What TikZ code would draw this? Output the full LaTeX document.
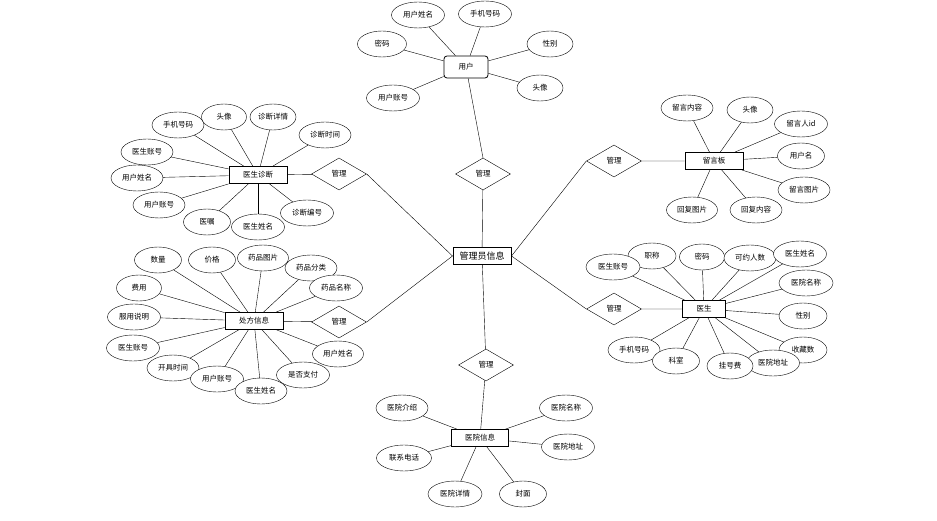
\documentclass[tikz,border=0pt]{standalone}
\usepackage{fontspec}
\newfontfamily\cjk{Noto Sans CJK SC}
\usetikzlibrary{shapes.geometric}

\begin{document}
\begin{tikzpicture}[x=1pt, y=-1pt, font=\cjk\fontsize{7.5}{9}\selectfont,
	attr/.style={draw, ellipse, fill=white, minimum height=26pt, inner sep=0pt},
	entity/.style={draw, fill=white, line width=0.8pt, minimum width=58pt, minimum height=17pt, inner sep=1pt},
	rel/.style={draw, diamond, fill=white, minimum width=55pt, minimum height=32pt, inner sep=0pt}]
	\useasboundingbox (0,0) rectangle (937,521);
	\node[entity, font=\cjk\fontsize{9}{10}\selectfont, line width=1pt] (admin) at (482,256) {管理员信息};
	\node[entity, rounded corners=3pt, minimum width=44pt, minimum height=22pt] (user) at (466,67) {用户};
	\node[entity] (diag) at (258,175) {医生诊断};
	\node[entity] (presc) at (254,321) {处方信息};
	\node[entity] (board) at (714,161) {留言板};
	\node[entity, minimum width=43pt] (doctor) at (704,309) {医生};
	\node[entity, minimum width=57pt] (hosp) at (480,438) {医院信息};
	\foreach \n/\x/\y in {r1/339/174, r2/339/322, r3/614/161, r4/614/309, r5/483/174, r6/486/365}
		{\node[rel] (\n) at (\x,\y) {管理};}
	\draw (diag) -- (r1) (r1.east) -- (admin.west);
	\draw (presc) -- (r2) (r2.east) -- (admin.west);
	\draw (board) -- (r3) (r3.west) -- (admin.east);
	\draw (doctor) -- (r4) (r4.west) -- (admin.east);
	\draw (user) -- (r5.north) (r5) -- (admin);
	\draw (admin) -- (r6) (r6) -- (hosp);
	\foreach \n/\x/\y/\w/\t in {u1/418/15/53/用户姓名, u2/485/14/53/手机号码, u3/382/44/49/密码,
		u4/550/44/46/性别, u5/540/88/46/头像, u6/393/98/53/用户账号}
		{\node[attr, minimum width=\w pt] (\n) at (\x,\y) {\t}; \draw (\n) -- (user);}
	\foreach \n/\x/\y/\w/\t in {d1/178/125/52/手机号码, d2/224/117/45/头像, d3/273/117/46/诊断详情,
		d4/325/135/52/诊断时间, d5/147/152/52/医生账号, d6/137/178/52/用户姓名, d7/159/205/52/用户账号,
		d8/207/222/47/医嘱, d9/258/227/53/医生姓名, d10/307/213/53/诊断编号}
		{\node[attr, minimum width=\w pt] (\n) at (\x,\y) {\t}; \draw (\n) -- (diag);}
	\foreach \n/\x/\y/\w/\t in {p1/158/260/47/数量, p2/212/260/47/价格, p3/263/258/51/药品图片,
		p4/311/268/52/药品分类, p5/336/288/53/药品名称, p6/139/288/45/费用, p7/134/317/53/服用说明,
		p8/133/348/53/医生账号, p9/173/368/52/开具时间, p10/217/379/53/用户账号, p11/261/391/52/医生姓名,
		p12/303/375/53/是否支付, p13/338/354/51/用户姓名}
		{\node[attr, minimum width=\w pt] (\n) at (\x,\y) {\t}; \draw (\n) -- (presc);}
	\foreach \n/\x/\y/\w/\t in {m1/687/108/52/留言内容, m2/750/110/46/头像, m3/801/124/53/留言人id,
		m4/801/156/47/用户名, m5/804/190/52/留言图片, m6/692/210/51/回复图片, m7/756/210/52/回复内容}
		{\node[attr, minimum width=\w pt] (\n) at (\x,\y) {\t}; \draw (\n) -- (board);}
	\foreach \n/\x/\y/\w/\t in {s1/652/256/48/职称, s2/613/267/54/医生账号, s3/702/257/45/密码,
		s4/750/258/52/可约人数, s5/800/254/53/医生姓名, s6/806/283/54/医院名称, s7/803/316/48/性别,
		s8/803/350/48/收藏数, s9/773/363/53/医院地址, s10/730/366/46/挂号费, s11/634/350/52/手机号码,
		s12/676/361/47/科室}
		{\node[attr, minimum width=\w pt] (\n) at (\x,\y) {\t}; \draw (\n) -- (doctor);}
	\foreach \n/\x/\y/\w/\t in {h1/402/408/52/医院介绍, h2/404/458/55/联系电话, h3/455/494/54/医院详情,
		h4/523/494/47/封面, h5/566/408/53/医院名称, h6/568/447/53/医院地址}
		{\node[attr, minimum width=\w pt] (\n) at (\x,\y) {\t}; \draw (\n) -- (hosp);}
\end{tikzpicture}
\end{document}
